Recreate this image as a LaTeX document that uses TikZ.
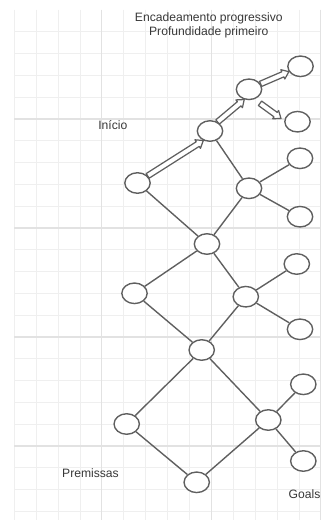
\documentclass[tikz,border=0pt]{standalone}
\usepackage{fontspec}
\setmainfont{Liberation Sans}
\usepackage{xcolor}
\usepackage{tikz}
\usetikzlibrary{shapes.geometric,calc}

\definecolor{gridlight}{HTML}{EFEFEF}
\definecolor{gridmajor}{HTML}{E2E2E2}
\definecolor{stroke}{HTML}{5F5F5F}
\definecolor{txt}{HTML}{383838}

% hollow (block) arrow between two points
\newcommand{\flexarrow}[2]{%
  \path let \p1=($(#2)-(#1)$) in \pgfextra{%
    \pgfmathsetmacro{\fxang}{atan2(\y1,\x1)}%
    \pgfmathsetmacro{\fxlen}{veclen(\x1,\y1)}%
    \xdef\fxang{\fxang}\xdef\fxlen{\fxlen}};
  \pgfmathsetmacro{\fxneck}{\fxlen-4.3}%
  \draw[hollow, shift={(#1)}, rotate=\fxang]
    (0pt,-1.8pt) -- (\fxneck pt,-1.8pt) -- (\fxneck pt,-3.3pt) -- (\fxlen pt,0pt)
    -- (\fxneck pt,3.3pt) -- (\fxneck pt,1.8pt) -- (0pt,1.8pt) -- cycle;
}

\begin{document}
\begin{tikzpicture}[x=0.022883cm, y=-0.022883cm,
    every node/.style={font=\fontsize{7.9}{9.4}\selectfont, text=txt},
    state/.style={ellipse, draw=stroke, line width=0.9pt, fill=white, minimum width=0.58cm, minimum height=0.47cm, inner sep=0pt},
    link/.style={draw=stroke, line width=0.9pt},
    hollow/.style={draw=stroke, line width=0.8pt, fill=white, line join=round},
    gridline/.style={draw=gridlight, line width=0.6pt},
    gridbold/.style={draw=gridmajor, line width=0.7pt}]
    \fill[white] (0,0) rectangle (321,520);
    \useasboundingbox (0,0) rectangle (321,520);
    % grid
    \foreach \k in {0,...,14} \draw[gridline] ({14.3+21.9*\k},10) -- ({14.3+21.9*\k},520);
    \foreach \k in {1,...,23} \draw[gridline] (14.3,{10+21.8*\k}) -- (321,{10+21.8*\k});
    \foreach \k in {4,9,14} \draw[gridbold] ({14.3+21.9*\k},10) -- ({14.3+21.9*\k},520);
    \foreach \k in {5,10,15,20} \draw[gridbold] (14.3,{10+21.8*\k}) -- (321,{10+21.8*\k});

    \node[align=center] (title) at (208.8,25.5) {Encadeamento progressivo\\Profundidade primeiro};
    \node (inicio) at (112.8,125) {Início};
    \node (premissas) at (90.5,473.3) {Premissas};
    \node (goals) at (304.5,494.3) {Goals};

    \node[state] (a) at (137.5,183) {};
    \node[state] (b) at (210,131) {};
    \node[state] (c) at (249,89.3) {};
    \node[state] (d) at (300.5,66.3) {};
    \node[state] (e) at (297.5,121.7) {};
    \node[state] (f) at (249,188.3) {};
    \node[state] (g) at (300,158.3) {};
    \node[state] (h) at (300,216.7) {};
    \node[state] (i) at (207,244) {};
    \node[state] (j) at (134.5,293.3) {};
    \node[state] (k) at (245.8,296.7) {};
    \node[state] (l) at (296.8,264) {};
    \node[state] (m) at (300,329.3) {};
    \node[state] (n) at (201.7,350) {};
    \node[state] (o) at (126.7,424) {};
    \node[state] (p) at (268.3,420) {};
    \node[state] (q) at (303.3,384.3) {};
    \node[state] (r) at (303.3,461) {};
    \node[state] (s) at (196.7,482.3) {};

    \draw[link] (b) -- (f);
    \draw[link] (f) -- (g);
    \draw[link] (f) -- (h);
    \draw[link] (a) -- (i);
    \draw[link] (f) -- (i);
    \draw[link] (i) -- (j);
    \draw[link] (i) -- (k);
    \draw[link] (k) -- (l);
    \draw[link] (k) -- (m);
    \draw[link] (j) -- (n);
    \draw[link] (k) -- (n);
    \draw[link] (n) -- (o);
    \draw[link] (n) -- (p);
    \draw[link] (p) -- (q);
    \draw[link] (p) -- (r);
    \draw[link] (o) -- (s);
    \draw[link] (p) -- (s);

    \flexarrow{a.35}{b.235}
    \flexarrow{b.50}{c.245}
    \flexarrow{c.25}{d.205}
    \coordinate (hintA) at (260,103.3);
    \coordinate (hintB) at (281,118.5);
    \flexarrow{hintA}{hintB}
  \end{tikzpicture}
\end{document}
